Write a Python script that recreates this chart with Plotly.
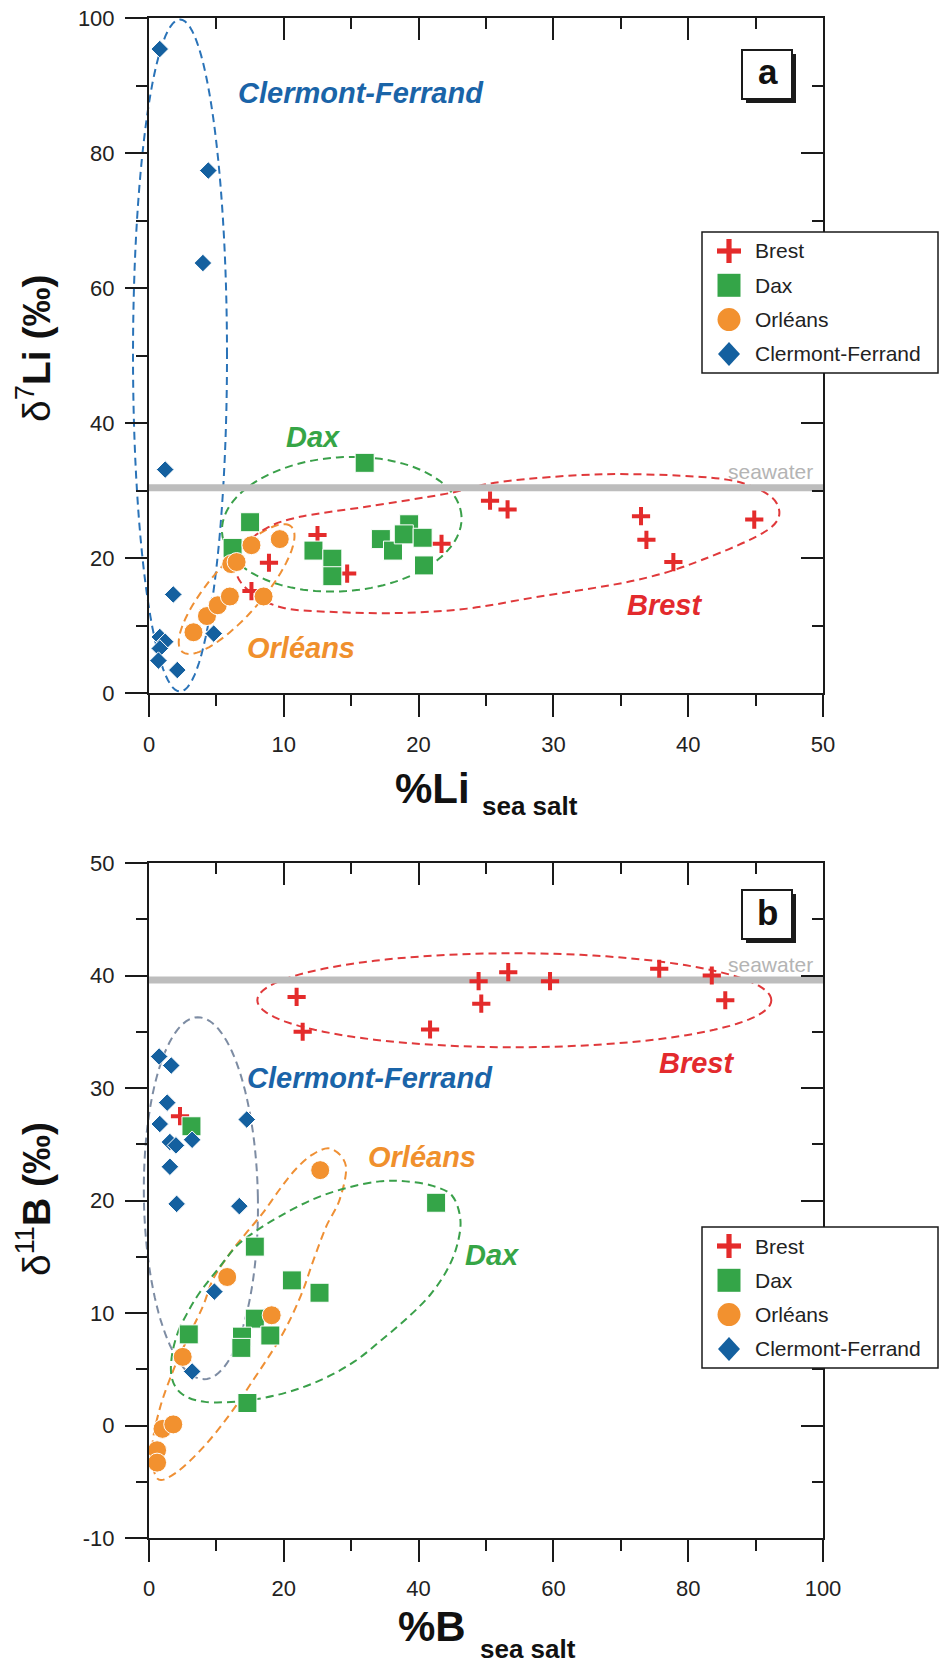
import math
import plotly.graph_objects as go

# ---------------------------------------------------------------
# Data
# ---------------------------------------------------------------
sites = ["Brest", "Dax", "Orléans", "Clermont-Ferrand"]

# (a) delta7Li (permil) versus % of Li from sea salt
li_brest_x = [12.5, 8.9, 14.7, 7.6, 21.7, 25.3, 26.6, 36.5, 36.9, 38.9, 44.9]
li_brest_y = [23.4, 19.3, 17.7, 15.1, 22.1, 28.5, 27.2, 26.2, 22.7, 19.4, 25.7]
li_dax_x = [16.0, 7.5, 6.2, 12.2, 13.6, 13.6, 17.2, 18.1, 19.3, 18.9, 20.3, 20.4]
li_dax_y = [34.1, 25.3, 21.5, 21.1, 19.9, 17.3, 22.8, 21.1, 25.0, 23.5, 23.0, 18.9]
li_orleans_x = [3.3, 4.3, 5.1, 6.0, 8.5, 6.1, 6.5, 7.6, 9.7]
li_orleans_y = [9.0, 11.4, 13.0, 14.3, 14.3, 19.1, 19.4, 21.9, 22.8]
li_clermont_x = [0.8, 4.4, 4.0, 1.2, 1.8, 0.8, 1.2, 0.8, 0.7, 2.1, 4.8]
li_clermont_y = [95.4, 77.4, 63.7, 33.1, 14.6, 8.3, 7.6, 6.6, 4.8, 3.4, 8.8]
li_seawater = 30.4

# (b) delta11B (permil) versus % of B from sea salt
b_brest_x = [4.6, 21.9, 22.8, 41.7, 48.9, 49.3, 53.3, 59.5, 75.7, 83.5, 85.5]
b_brest_y = [27.5, 38.1, 35.0, 35.2, 39.5, 37.5, 40.3, 39.5, 40.6, 40.0, 37.8]
b_dax_x = [6.3, 42.6, 15.7, 21.2, 25.3, 15.7, 18.0, 5.9, 13.8, 13.7, 14.6]
b_dax_y = [26.6, 19.8, 15.9, 12.9, 11.8, 9.5, 8.0, 8.1, 7.9, 6.9, 2.0]
b_orleans_x = [25.4, 11.6, 18.2, 5.0, 2.0, 3.6, 1.2, 1.2]
b_orleans_y = [22.7, 13.2, 9.8, 6.1, -0.3, 0.1, -2.2, -3.3]
b_clermont_x = [1.5, 3.3, 2.7, 1.6, 3.1, 4.0, 6.4, 3.1, 4.1, 14.5, 13.4, 9.7, 6.4]
b_clermont_y = [32.8, 32.0, 28.7, 26.8, 25.2, 24.9, 25.4, 23.0, 19.7, 27.2, 19.5, 11.9, 4.8]
b_seawater = 39.6

# axis ticks
li_x_ticks = [0, 10, 20, 30, 40, 50]
li_x_labels = ["0", "10", "20", "30", "40", "50"]
li_y_ticks = [0, 20, 40, 60, 80, 100]
li_y_labels = ["0", "20", "40", "60", "80", "100"]
b_x_ticks = [0, 20, 40, 60, 80, 100]
b_x_labels = ["0", "20", "40", "60", "80", "100"]
b_y_ticks = [-10, 0, 10, 20, 30, 40, 50]
b_y_labels = ["-10", "0", "10", "20", "30", "40", "50"]

# ---------------------------------------------------------------
# Page geometry (pixels) and styling
# ---------------------------------------------------------------
W, H = 940, 1668
PL, PR = 149, 823          # left / right edge of both plot areas
A_TOP, A_BOT = 18, 693     # panel a plot area
B_TOP, B_BOT = 863, 1538   # panel b plot area
LI_XR, LI_YR = [0, 50], [0, 100]
B_XR, B_YR = [0, 100], [-10, 50]

FONT = "Liberation Sans, Arial, sans-serif"
INK = "#1a1a1a"
RED, GREEN, ORANGE, BLUE = "#e42b2b", "#34a548", "#f2912f", "#14609f"

STYLE = {
    "Brest": dict(symbol="cross-thin", size=13, color=RED, line=dict(color=RED, width=4)),
    "Dax": dict(symbol="square", size=19, color=GREEN, line=dict(color="white", width=1)),
    "Orléans": dict(symbol="circle", size=19, color=ORANGE, line=dict(color="white", width=1)),
    "Clermont-Ferrand": dict(symbol="diamond", size=13.5, color=BLUE, line=dict(color="white", width=1)),
}


def fx(px):
    return px / W


def fy(py):
    return 1 - py / H


def to_px(x, y, panel):
    xr, yr, top, bot = (LI_XR, LI_YR, A_TOP, A_BOT) if panel == "a" else (B_XR, B_YR, B_TOP, B_BOT)
    px = PL + (x - xr[0]) / (xr[1] - xr[0]) * (PR - PL)
    py = bot - (y - yr[0]) / (yr[1] - yr[0]) * (bot - top)
    return px, py


def pstr(p):
    return f"{fx(p[0]):.5f},{fy(p[1]):.5f}"


def smooth_outline(points, panel):
    """Closed Catmull-Rom curve through data-space anchors, as a paper-space path."""
    pts = [to_px(x, y, panel) for x, y in points]
    n = len(pts)
    s = "M" + pstr(pts[0])
    for i in range(n):
        p0, p1, p2, p3 = pts[(i - 1) % n], pts[i], pts[(i + 1) % n], pts[(i + 2) % n]
        c1 = (p1[0] + (p2[0] - p0[0]) / 6, p1[1] + (p2[1] - p0[1]) / 6)
        c2 = (p2[0] - (p3[0] - p1[0]) / 6, p2[1] - (p3[1] - p1[1]) / 6)
        s += " C" + pstr(c1) + " " + pstr(c2) + " " + pstr(p2)
    return s + " Z"


def ellipse_outline(cx, cy, rx, ry, ang, panel, n=120):
    """Ellipse centred on a data point, radii in pixels, rotated ang degrees."""
    ox, oy = to_px(cx, cy, panel)
    a = math.radians(ang)
    pts = []
    for k in range(n):
        t = 2 * math.pi * k / n
        ex, ey = rx * math.cos(t), ry * math.sin(t)
        pts.append((ox + ex * math.cos(a) - ey * math.sin(a),
                    oy - (ex * math.sin(a) + ey * math.cos(a))))
    return "M" + " L".join(pstr(p) for p in pts) + " Z"


def dashed(path, color):
    return dict(type="path", path=path, xref="paper", yref="paper", layer="below",
                line=dict(color=color, width=2, dash="8px,5px"))


fig = go.Figure()

# ---------------------------------------------------------------
# Scatter points
# ---------------------------------------------------------------
panel_a = [(li_brest_x, li_brest_y), (li_dax_x, li_dax_y),
           (li_orleans_x, li_orleans_y), (li_clermont_x, li_clermont_y)]
panel_b = [(b_brest_x, b_brest_y), (b_dax_x, b_dax_y),
           (b_orleans_x, b_orleans_y), (b_clermont_x, b_clermont_y)]

for (xs, ys), name in zip(panel_a, sites):
    fig.add_trace(go.Scatter(x=xs, y=ys, mode="markers", name=name, marker=STYLE[name],
                             xaxis="x", yaxis="y", showlegend=False))
for (xs, ys), name in zip(panel_b, sites):
    fig.add_trace(go.Scatter(x=xs, y=ys, mode="markers", name=name, marker=STYLE[name],
                             xaxis="x2", yaxis="y2", showlegend=False))

# empty traces so the mirrored frame axes (top / right) get drawn
for xa, ya in [("x3", "y"), ("x", "y3"), ("x4", "y2"), ("x2", "y4")]:
    fig.add_trace(go.Scatter(x=[None], y=[None], xaxis=xa, yaxis=ya,
                             showlegend=False, hoverinfo="skip"))

# ---------------------------------------------------------------
# Axes
# ---------------------------------------------------------------
tickfont = dict(family=FONT, size=22, color="#222222")


def axis(rng, ticks, labels, minor_step, direction, labels_on, **kw):
    d = dict(range=rng, tickmode="array", tickvals=ticks, ticktext=labels,
             ticks=direction, ticklen=22, tickwidth=2, tickcolor=INK,
             showline=True, linecolor=INK, linewidth=2, automargin=False,
             showgrid=False, zeroline=False, showticklabels=labels_on,
             tickfont=tickfont, fixedrange=True,
             minor=dict(ticks=direction, ticklen=11, tickwidth=2, tickcolor=INK,
                        tickmode="linear", tick0=rng[0], dtick=minor_step, showgrid=False))
    d.update(kw)
    return d


xdom = [fx(PL), fx(PR)]
fig.update_layout(
    xaxis=axis(LI_XR, li_x_ticks, li_x_labels, 5, "outside", True,
               domain=xdom, anchor="y", ticklabelstandoff=9),
    yaxis=axis(LI_YR, li_y_ticks, li_y_labels, 10, "outside", True,
               domain=[fy(A_BOT), fy(A_TOP)], anchor="x", ticklabelstandoff=6),
    xaxis3=axis(LI_XR, li_x_ticks, li_x_labels, 5, "inside", False,
                overlaying="x", side="top", anchor="y"),
    yaxis3=axis(LI_YR, li_y_ticks, li_y_labels, 10, "inside", False,
                overlaying="y", side="right", anchor="x"),
    xaxis2=axis(B_XR, b_x_ticks, b_x_labels, 10, "outside", True,
                domain=xdom, anchor="y2", ticklabelstandoff=8),
    yaxis2=axis(B_YR, b_y_ticks, b_y_labels, 5, "outside", True,
                domain=[fy(B_BOT), fy(B_TOP)], anchor="x2", ticklabelstandoff=6),
    xaxis4=axis(B_XR, b_x_ticks, b_x_labels, 10, "inside", False,
                overlaying="x2", side="top", anchor="y2"),
    yaxis4=axis(B_YR, b_y_ticks, b_y_labels, 5, "inside", False,
                overlaying="y2", side="right", anchor="x2"),
)

# ---------------------------------------------------------------
# Shapes: group outlines, seawater lines, panel tags, legends
# ---------------------------------------------------------------
shapes = []

# panel a outlines
shapes.append(dashed(ellipse_outline(2.3, 50, 47, 336, 0, "a"), "#2a73b8"))
shapes.append(dashed(ellipse_outline(14.3, 25.0, 120, 67, 4, "a"), "#3aa04a"))
shapes.append(dashed(ellipse_outline(6.5, 15.4, 83, 26, 49, "a"), "#ef9035"))
shapes.append(dashed(smooth_outline([
    (7.0, 21.5), (8.7, 24.4), (11.2, 26.1), (16.1, 27.6), (22.0, 29.5), (26.2, 31.3),
    (33.6, 32.4), (41.0, 32.0), (44.5, 30.8), (46.6, 28.0), (46.0, 24.3), (41.0, 19.7),
    (36.1, 16.7), (28.7, 14.2), (23.6, 12.5), (18.6, 11.85), (13.7, 12.0), (10.0, 12.6),
    (7.7, 14.7), (6.5, 17.7)], "a"), "#e0393b"))

# panel b outlines
shapes.append(dashed(ellipse_outline(7.7, 20.2, 57, 181, 1, "b"), "#7d8ca3"))
shapes.append(dashed(ellipse_outline(54.2, 37.8, 257, 47, 0, "b"), "#e0393b"))
shapes.append(dashed(smooth_outline([
    (1.2, -4.7), (4.0, -4.2), (8.1, -1.9), (12.0, 1.0), (15.2, 3.8), (19.6, 7.9),
    (22.5, 11.5), (24.4, 14.7), (26.3, 17.7), (28.3, 20.1), (29.2, 23.1), (27.0, 24.6),
    (24.3, 24.1), (21.8, 22.8), (19.4, 21.0), (16.9, 18.9), (14.4, 17.1), (12.0, 15.3),
    (9.5, 13.0), (8.0, 10.6), (5.7, 7.7), (3.6, 4.9), (1.6, 1.5), (0.5, -1.9)], "b"),
    "#ef9035"))
shapes.append(dashed(smooth_outline([
    (4.3, 8.3), (5.6, 9.9), (7.5, 11.8), (10.5, 14.1), (12.9, 15.9),
    (15.4, 17.1), (19.4, 18.6), (24.3, 20.1), (29.2, 21.1), (34.2, 21.7), (38.1, 21.7),
    (42.1, 21.3), (45.0, 20.4), (46.2, 18.3), (45.7, 16.0), (44.2, 13.8), (41.7, 11.6),
    (38.4, 9.6), (34.5, 7.6), (30.5, 5.7), (25.7, 4.1), (20.2, 2.9), (14.2, 2.2),
    (8.3, 2.1), (4.9, 2.8), (3.4, 4.2), (3.4, 6.2)], "b"), "#3aa04a"))

# seawater reference lines
shapes.append(dict(type="line", xref="x", yref="y", x0=LI_XR[0], x1=LI_XR[1],
                   y0=li_seawater, y1=li_seawater, layer="below",
                   line=dict(color="#bdbdbd", width=7)))
shapes.append(dict(type="line", xref="x2", yref="y2", x0=B_XR[0], x1=B_XR[1],
                   y0=b_seawater, y1=b_seawater, layer="below",
                   line=dict(color="#bdbdbd", width=7)))


def rect(x0, y0, x1, y1, fill, line_color=None, line_width=0):
    return dict(type="rect", xref="paper", yref="paper", layer="above",
                x0=fx(x0), x1=fx(x1), y0=fy(y0), y1=fy(y1), fillcolor=fill,
                line=dict(color=line_color or fill, width=line_width))


annotations = []

# panel tags with drop shadow
for tag, top in [("a", 50), ("b", 890)]:
    shapes.append(rect(746, top + 4, 796, top + 53, INK))
    shapes.append(rect(742, top, 792, top + 49, "white", INK, 2))
    annotations.append(dict(text=f"<b>{tag}</b>", xref="paper", yref="paper",
                            x=fx(767.5), y=fy(top + 22), xanchor="center", yanchor="middle",
                            showarrow=False, font=dict(family=FONT, size=35, color="#111111")))

# legends (one per panel)
LEG_ROW = 34.3
for top in [232, 1227]:
    shapes.append(rect(702, top, 938, top + 141, "white", INK, 1.5))
    cx = 729
    for i, name in enumerate(sites):
        cy = top + 19 + i * LEG_ROW
        st = STYLE[name]
        if st["symbol"] == "cross-thin":
            shapes.append(rect(cx - 12, cy - 2.6, cx + 12, cy + 2.6, st["color"]))
            shapes.append(rect(cx - 2.6, cy - 12, cx + 2.6, cy + 12, st["color"]))
        elif st["symbol"] == "square":
            shapes.append(rect(cx - 11.5, cy - 11.5, cx + 11.5, cy + 11.5, st["color"]))
        elif st["symbol"] == "circle":
            shapes.append(dict(type="circle", xref="paper", yref="paper", layer="above",
                               x0=fx(cx - 11.5), x1=fx(cx + 11.5), y0=fy(cy - 11.5), y1=fy(cy + 11.5),
                               fillcolor=st["color"], line=dict(color=st["color"], width=0)))
        else:
            d = "M" + " L".join(pstr(p) for p in [(cx - 11, cy), (cx, cy - 12), (cx + 11, cy), (cx, cy + 12)]) + " Z"
            shapes.append(dict(type="path", path=d, xref="paper", yref="paper", layer="above",
                               fillcolor=st["color"], line=dict(color=st["color"], width=0)))
        annotations.append(dict(text=name, xref="paper", yref="paper", x=fx(753), y=fy(cy),
                                xanchor="left", yanchor="middle", showarrow=False,
                                font=dict(family=FONT, size=21, color="#222222")))

# ---------------------------------------------------------------
# Text: group names, seawater, axis titles
# ---------------------------------------------------------------
def label(text, px, py, color, size=29, bold_italic=True, **kw):
    t = f"<b><i>{text}</i></b>" if bold_italic else text
    d = dict(text=t, xref="paper", yref="paper", x=fx(px), y=fy(py),
             xanchor="center", yanchor="middle", showarrow=False,
             font=dict(family=FONT, size=size, color=color))
    d.update(kw)
    return d


annotations += [
    label("Clermont-Ferrand", 361, 93, "#1a64a8"),
    label("Dax", 313, 437, "#36a546"),
    label("Orléans", 301, 648, "#f0902d"),
    label("Brest", 664, 605, "#e32a2d"),
    label("Clermont-Ferrand", 370, 1078, "#1a64a8"),
    label("Orléans", 422, 1157, "#f0902d"),
    label("Dax", 492, 1255, "#36a546"),
    label("Brest", 696, 1063, "#e32a2d"),
    label("seawater", 815, 471, "#b4b4b4", size=21, bold_italic=False, xanchor="right"),
    label("seawater", 815, 965, "#b4b4b4", size=21, bold_italic=False, xanchor="right"),
    # x-axis titles
    label("<b>%Li</b>", 393, 789, "#111111", size=42, bold_italic=False, xanchor="left"),
    label("<b>sea salt</b>", 480, 806, "#111111", size=26, bold_italic=False, xanchor="left"),
    label("<b>%B</b>", 396, 1626, "#111111", size=42, bold_italic=False, xanchor="left"),
    label("<b>sea salt</b>", 478, 1649, "#111111", size=26, bold_italic=False, xanchor="left"),
    # y-axis titles
    label("δ<sup>7</sup><b>Li (‰)</b>", 33, 349, "#111111", size=39, bold_italic=False, textangle=-90),
    label("δ<sup>11</sup><b>B (‰)</b>", 33, 1199, "#111111", size=39, bold_italic=False, textangle=-90),
]

fig.update_layout(
    template="none",
    width=W, height=H, margin=dict(l=0, r=0, t=0, b=0, pad=0, autoexpand=False),
    paper_bgcolor="white", plot_bgcolor="rgba(0,0,0,0)",
    showlegend=False, shapes=shapes, annotations=annotations,
    font=dict(family=FONT, color="#222222"),
)

fig.write_html("out.html")
